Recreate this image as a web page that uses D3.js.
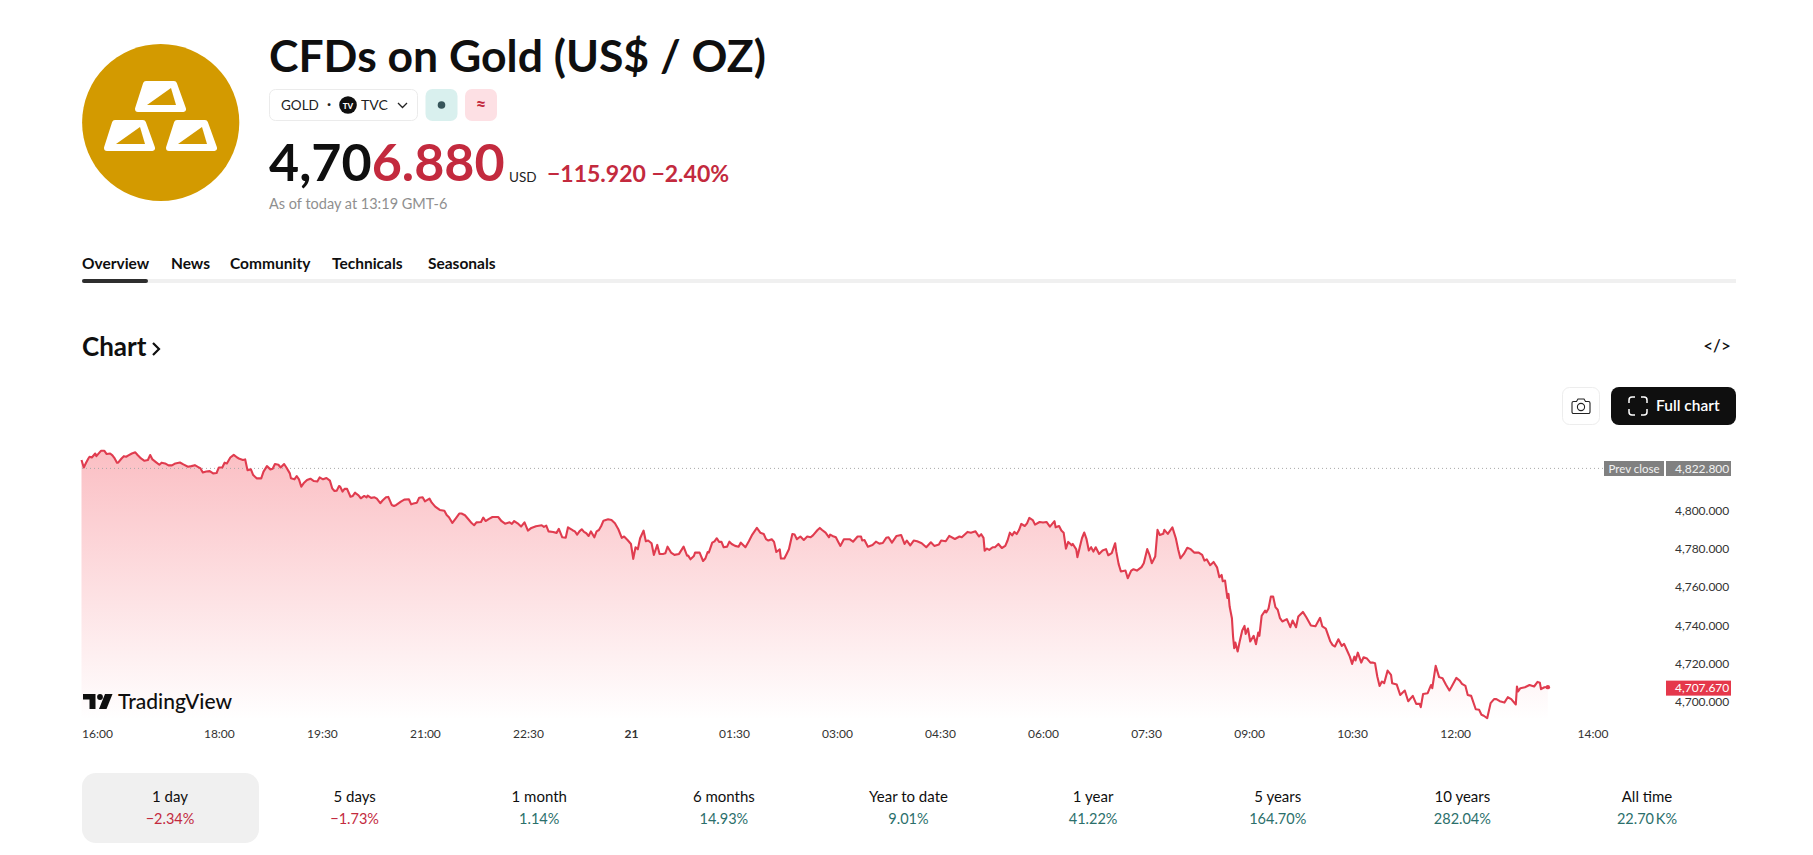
<!DOCTYPE html>
<html>
<head>
<meta charset="utf-8">
<title>CFDs on Gold</title>
<script src="https://cdn.jsdelivr.net/npm/d3@7"></script>
<style>
html, body { margin: 0; padding: 0; background: #fff; overflow: hidden; }
svg { display: block; font-family: Lato, "Noto Sans", sans-serif; }
</style>
</head>
<body>
<div id="chart"></div>
<script>
// minutes since 16:00 the day before
var minutes = [0,2,4,6,7,9,12,13,16,17,20,22,25,27,29,31,32,35,37,39,41,44,47,49,52,55,58,60,62,65,68,70,73,76,79,82,86,89,93,96,99,102,104,106,109,112,115,118,120,123,125,127,130,133,136,138,141,143,145,148,150,153,157,159,162,165,167,169,172,174,177,179,182,183,186,188,190,192,194,197,200,203,206,208,211,214,217,
219,221,223,225,226,228,230,232,235,237,239,242,244,247,249,250,253,256,258,261,263,266,268,271,273,275,279,282,286,288,290,293,295,298,300,304,306,309,313,317,319,321,324,327,330,332,335,338,341,343,345,349,351,353,356,359,364,367,370,374,376,378,381,384,387,390,393,397,402,404,406,408,412,415,417,420,423,425,429,431,433,435,
437,439,441,443,445,448,450,452,454,456,460,463,466,469,472,474,477,480,482,484,486,488,491,493,495,498,500,503,505,508,510,512,515,518,522,526,529,530,532,535,536,540,543,545,547,548,551,553,555,557,559,561,564,566,568,571,574,576,580,583,586,590,593,596,598,600,603,605,607,610,611,614,616,618,621,623,625,628,631,634,637,639,643,645,647,650,653,
654,656,659,661,663,666,668,671,674,678,681,682,684,687,691,694,697,700,703,705,708,712,716,719,721,724,727,730,734,738,742,745,749,751,755,758,763,767,769,774,777,781,784,786,788,789,791,793,796,798,801,804,807,809,811,813,815,817,819,821,824,826,828,831,833,837,840,843,846,848,850,851,854,856,858,860,862,865,866,869,870,872,
874,876,878,880,882,884,886,889,892,895,897,900,903,904,906,908,912,914,917,919,922,926,928,931,933,935,938,940,942,945,946,949,953,956,958,960,963,966,969,972,976,979,981,983,986,989,992,994,996,997,999,1001,1002,1003,1005,1006,1007,1008,1010,1012,1014,1016,1017,1019,1021,1024,1026,1028,1029,1031,1034,1035,1037,1039,1041,1043,1045,1047,1049,1053,1056,1058,1061,1063,1067,1070,1074,1078,1082,1084,1087,1091,
1093,1095,1098,1101,1103,1106,1108,1110,1112,1113,1115,1118,1120,1123,1126,1128,1130,1132,1134,1136,1138,1141,1144,1145,1149,1152,1156,1159,1163,1166,1169,1170,1172,1176,1179,1180,1183,1186,1189,1192,1195,1197,1201,1204,1206,1209,1211,1214,1218,1221,1223,1225,1228,1231,1234,1236,1239,1243,1246,1249,1253,1254,1255,1257,1261,1265,1269,1272,1274,1275,1278,1281];

var prices = [4826.4,4822.5,4825,4827.2,4828.1,4827.7,4829.8,4828.4,4830.5,4831.2,4831.2,4829.5,4829.8,4828.8,4827.2,4825,4825,4827.2,4828.4,4828.1,4828.8,4829.8,4830.4,4829,4827.2,4826,4826.4,4829,4826.7,4825.3,4823.9,4825,4824.6,4823.6,4823.6,4824.6,4825.1,4824.1,4822.9,4823.2,4823.7,4822.7,4822,4819.9,4820.4,4820.6,4819.4,4819.6,4822.5,4822.5,4825,4824.6,4827.7,4829.1,4827.7,4827,4826.4,4826.7,4821.1,4821.5,4818.5,4816.8,4816.8,4820.3,4823.2,4821.5,4821.8,4824.3,4823.9,4822.5,4824.3,4822.5,4819.4,4816.8,4816.3,4818,4816.3,4812.4,4814.2,4815.9,4816.6,4815.4,4815.2,4817.3,4816.3,4817,4815.6,
4811.6,4810.2,4810.4,4812.8,4812.5,4809.9,4811.4,4811.3,4807.2,4807.6,4809.3,4807.9,4806.4,4807.6,4806.9,4807.8,4806.6,4806.9,4806.2,4803.8,4805.2,4806.9,4807.1,4802.9,4802.4,4802.9,4804.6,4805.7,4805.9,4803.2,4803.6,4804.1,4806.7,4806.9,4804.8,4806.2,4804.1,4802,4800.3,4799.9,4797.7,4796.5,4793.5,4795.9,4798.4,4798.4,4797.5,4795.4,4793.3,4792.3,4793.8,4794,4796.3,4794.5,4795.6,4796.6,4796.6,4794.4,4793.1,4793.8,4793,4794.5,4793.3,4791.6,4793.8,4789.5,4790.9,4791.8,4792.3,4791.4,4792.1,4789.1,4788.8,4788.3,4790.4,4786,4785.8,4791.2,4789.7,4789.1,4787.4,4789.1,
4790.2,4788.8,4788.1,4786.7,4789.1,4786,4789.1,4789.8,4791.9,4794.7,4795.4,4795,4793.3,4790.2,4785.7,4786.4,4784.6,4782.5,4774.7,4780.8,4779.7,4785.5,4789.5,4783.9,4784.3,4782.9,4776.8,4782,4777.3,4777.3,4777.6,4781.1,4778,4776.8,4777.3,4781.1,4776.4,4776.4,4774.5,4776.2,4778,4778,4773.6,4774.9,4778.3,4778,4783.2,4783.9,4785.5,4783.6,4783.7,4780.8,4781.1,4783.7,4782.5,4781.5,4781.1,4783.2,4780.8,4783.9,4787.4,4790.9,4788.4,4787.7,4785,4784.3,4785,4783.6,4778.3,4779.7,4774.9,4774.9,4777.3,4779.7,4787.7,4787.4,4785,4786.4,4784.6,4786.4,4786,4787,4789.8,4790.9,4789.8,4788.4,4786,
4787.4,4786.7,4786,4783.7,4781.5,4785,4785,4785,4783.7,4786.4,4786.4,4784.3,4784.6,4781.1,4782,4783.7,4782.7,4783,4785.7,4786,4783.2,4786.7,4787.2,4782.5,4784.3,4781.8,4784.3,4783.9,4782.9,4780.8,4783.4,4781.5,4782.2,4784.3,4783.9,4786.7,4785.1,4786.4,4786,4788.8,4788.4,4789.1,4786.4,4787.6,4785.7,4779,4780.1,4779.4,4780.8,4780.8,4782.5,4780.4,4781.5,4784.3,4788.4,4787,4788.8,4787.7,4789.8,4793,4791.9,4793.3,4796.1,4795,4792.6,4794,4793.7,4794,4791.6,4793,4794.4,4791.2,4791.9,4789.5,4788.4,4780.1,4783.6,4781.8,4782.5,4779.7,4775.6,4780.7,
4785.5,4788.5,4785,4779.1,4780.8,4778.5,4780.8,4777.3,4779.1,4779.8,4776.6,4777.7,4782.9,4778.5,4772.1,4768.1,4768.6,4764.6,4768.6,4769.3,4768.6,4770.4,4772.4,4779.8,4776.8,4772.4,4775.9,4789.9,4787.2,4787.8,4789.9,4787.8,4791.2,4785.5,4779.8,4775,4777.3,4780.5,4779.8,4778,4778,4776.8,4773.8,4774.5,4771.4,4773.1,4770.3,4765.1,4766.3,4763,4763.4,4754.3,4756.4,4749.8,4743.7,4734.1,4728,4731,4726.3,4732.1,4737.3,4739.7,4735.5,4738.3,4731.5,4734.5,4730.1,4736.2,4734.5,4745,4747.7,4746.7,4748.8,4755,4755,4749.5,4748.1,4743.7,4742,4743.2,4739,4742.5,4739,4744.6,4747,4744.2,4739.9,4739.5,4743.9,4739.4,4738.3,4731.5,
4729.6,4728.9,4732.7,4729.2,4730.3,4726.3,4723.6,4719.8,4723.6,4721.6,4725.7,4720.5,4723.3,4722.6,4720.5,4720.5,4720.2,4713.2,4708.3,4710.6,4709.7,4716.3,4714.1,4709.7,4709,4703.6,4705.9,4700.3,4703.1,4698.9,4698.9,4697.2,4704.1,4704.5,4708.8,4707.1,4718.8,4712.9,4712.3,4708.9,4705.9,4708,4712.5,4711.1,4709.4,4708.3,4703.6,4703.1,4696.1,4695.8,4693.2,4692.7,4691.4,4699.3,4701.4,4701.4,4700.3,4699.6,4702.4,4701.4,4698.6,4708,4705.4,4707.1,4707.6,4708.8,4708,4710.4,4710,4706.6,4707.6,4707.67];

var xTickMinutes = [0,120,210,300,390,480,570,660,750,840,930,1020,1110,1200,1320];
var xTickLabels = ['16:00','18:00','19:30','21:00','22:30','21','01:30','03:00','04:30','06:00','07:30','09:00','10:30','12:00','14:00'];
var yTicks = [4700,4720,4740,4760,4780,4800];
var prevClose = 4822.8;
var lastPrice = 4707.67;

var tabNames = ['Overview','News','Community','Technicals','Seasonals'];
var tabX = [82,171,230,332,428];

var rangeNames = ['1 day','5 days','1 month','6 months','Year to date','1 year','5 years','10 years','All time'];
var rangeValues = ['\u22122.34%','\u22121.73%','1.14%','14.93%','9.01%','41.22%','164.70%','282.04%','22.70\u2009K%'];
var rangeUp = [false,false,true,true,true,true,true,true,true];

var red = '#c32a3e', green = '#2b6f6b', ink = '#0f0f0f', lineRed = '#e03c4f';

var svg = d3.select('#chart').append('svg').attr('width', 1813).attr('height', 855);

function label(x, y, str, size, weight, fill, anchor) {
    return svg.append('text').attr('x', x).attr('y', y).text(str)
        .style('font-size', size + 'px').style('font-weight', weight)
        .attr('fill', fill).attr('text-anchor', anchor || 'start');
}

// header: gold logo
svg.append('circle').attr('cx', 160.7).attr('cy', 122.5).attr('r', 78.6).attr('fill', '#d39a00');
function bar(x, y) {
    svg.append('path')
        .attr('d', 'M' + (x + 11) + ',' + (y + 3) + 'L' + (x + 39) + ',' + (y + 3) + 'L' + (x + 48) + ',' + (y + 28) + 'L' + (x + 3) + ',' + (y + 28) + 'Z')
        .attr('fill', '#fff').attr('stroke', '#fff').attr('stroke-width', 6).attr('stroke-linejoin', 'round');
    svg.append('path')
        .attr('d', 'M' + (x + 12) + ',' + (y + 24) + 'L' + (x + 36) + ',' + (y + 7) + 'L' + (x + 41) + ',' + (y + 24) + 'Z')
        .attr('fill', '#d39a00');
}
bar(135, 81); bar(104, 120); bar(166, 120);

label(269, 72, 'CFDs on Gold (US$ / OZ)', 44.5, 700, ink);

// symbol chip and badges
svg.append('rect').attr('x', 269.5).attr('y', 89.5).attr('width', 148).attr('height', 31).attr('rx', 6)
    .attr('fill', '#fff').attr('stroke', '#ebebeb');
label(281, 110, 'GOLD', 13.5, 400, '#222');
label(327, 109, '\u00b7', 15, 700, '#222');
svg.append('circle').attr('cx', 348).attr('cy', 105).attr('r', 8.8).attr('fill', ink);
label(348, 108.5, 'TV', 8, 900, '#fff', 'middle');
label(361, 110, 'TVC', 14, 400, '#222');
svg.append('path').attr('d', 'M398,103l4.5,4.5l4.5,-4.5').attr('fill', 'none').attr('stroke', '#222').attr('stroke-width', 1.3);
svg.append('rect').attr('x', 425.5).attr('y', 89).attr('width', 32).attr('height', 32).attr('rx', 7).attr('fill', '#d9f0ee');
svg.append('circle').attr('cx', 441.5).attr('cy', 105).attr('r', 3.8).attr('fill', '#37555a');
svg.append('rect').attr('x', 465).attr('y', 89).attr('width', 32).attr('height', 32).attr('rx', 7).attr('fill', '#fde0e4');
label(481, 111, '\u2248', 18, 700, red, 'middle');

// price
var priceText = label(269, 181, '', 52, 700, ink);
priceText.append('tspan').text('4,70');
priceText.append('tspan').attr('fill', red).text('6.880');
label(509, 182, 'USD', 13.5, 400, '#222');
label(547, 182, '\u2212115.920 \u22122.40%', 23, 700, red);
label(269, 209, 'As of today at 13:19 GMT-6', 14.5, 400, '#8f8f8f');

// tabs
svg.append('rect').attr('x', 82).attr('y', 279).attr('width', 1654).attr('height', 4).attr('fill', '#f0f0f0');
svg.append('rect').attr('x', 82).attr('y', 279).attr('width', 66).attr('height', 4).attr('rx', 2).attr('fill', '#2e2e2e');
svg.selectAll('text.tab').data(tabNames).enter().append('text').attr('class', 'tab')
    .attr('x', function(d, i) { return tabX[i]; }).attr('y', 269)
    .style('font-size', '15.5px').style('font-weight', 700).attr('fill', ink)
    .text(function(d) { return d; });

// chart heading and buttons
label(82, 356, 'Chart', 26, 700, ink);
svg.append('path').attr('d', 'M153,343l6,6l-6,6').attr('fill', 'none').attr('stroke', ink).attr('stroke-width', 2.2);
label(1717, 351.5, '</>', 17, 600, ink, 'middle');

svg.append('rect').attr('x', 1562.5).attr('y', 387.5).attr('width', 37).attr('height', 37).attr('rx', 7)
    .attr('fill', '#fff').attr('stroke', '#ededed');
svg.append('path').attr('d', 'M1573.5,401.5h3l1.5,-2.5h6l1.5,2.5h3a1.5,1.5 0 0 1 1.5,1.5v9a1.5,1.5 0 0 1 -1.5,1.5h-15a1.5,1.5 0 0 1 -1.5,-1.5v-9a1.5,1.5 0 0 1 1.5,-1.5z')
    .attr('fill', 'none').attr('stroke', '#222').attr('stroke-width', 1.1);
svg.append('circle').attr('cx', 1581).attr('cy', 407).attr('r', 3.6).attr('fill', 'none').attr('stroke', '#222').attr('stroke-width', 1.1);
svg.append('rect').attr('x', 1611).attr('y', 387).attr('width', 125).attr('height', 38).attr('rx', 8).attr('fill', ink);
svg.append('path').attr('d', 'M1629,403v-3a3,3 0 0 1 3,-3h3M1641,397h3a3,3 0 0 1 3,3v3M1647,409v3a3,3 0 0 1 -3,3h-3M1635,415h-3a3,3 0 0 1 -3,-3v-3')
    .attr('fill', 'none').attr('stroke', '#fff').attr('stroke-width', 1.5);
label(1656, 411, 'Full chart', 15.5, 600, '#fff');

// price chart
var x = d3.scaleLinear().domain([0, 1320]).range([81.5, 1592.5]);
var y = d3.scaleLinear().domain([4700, 4800]).range([701.8, 510.5]);
var points = minutes.map(function(m, i) { return {m: m, p: prices[i]}; });

var grad = svg.append('defs').append('linearGradient').attr('id', 'fade')
    .attr('gradientUnits', 'userSpaceOnUse').attr('x1', 0).attr('x2', 0).attr('y1', 450).attr('y2', 720);
grad.append('stop').attr('offset', 0).attr('stop-color', '#f23645').attr('stop-opacity', 0.32);
grad.append('stop').attr('offset', 1).attr('stop-color', '#f23645').attr('stop-opacity', 0);

var area = d3.area().x(function(d) { return x(d.m); }).y0(720).y1(function(d) { return y(d.p); });
var line = d3.line().x(function(d) { return x(d.m); }).y(function(d) { return y(d.p); });

svg.append('path').datum(points).attr('d', area).attr('fill', 'url(#fade)');

svg.append('line').attr('x1', 82).attr('x2', 1604)
    .attr('y1', y(prevClose) + 1.5).attr('y2', y(prevClose) + 1.5)
    .attr('stroke', '#a8a8a8').attr('stroke-width', 1).attr('stroke-dasharray', '1 3');

svg.append('path').datum(points).attr('d', line)
    .attr('fill', 'none').attr('stroke', lineRed).attr('stroke-width', 2.1).attr('stroke-linejoin', 'round');
svg.append('circle').attr('cx', x(1281)).attr('cy', y(lastPrice)).attr('r', 2.2).attr('fill', lineRed);

var xAxis = d3.axisBottom(x).tickValues(xTickMinutes).tickSize(0).tickPadding(0)
    .tickFormat(function(d, i) { return xTickLabels[i]; });
var xg = svg.append('g').attr('transform', 'translate(0,738)').call(xAxis);
xg.select('.domain').remove();
xg.selectAll('text').attr('y', 0).attr('dy', 0).attr('fill', '#333').style('font-size', '12px').style('font-family', 'Lato');
xg.selectAll('text').filter(function(d, i) { return i === 0; }).attr('text-anchor', 'start');
xg.selectAll('text').filter(function(d, i) { return xTickLabels[i] === '21'; }).style('font-weight', 700);

var yAxis = d3.axisRight(y).tickValues(yTicks).tickSize(0).tickPadding(0).tickFormat(d3.format(',.3f'));
var yg = svg.append('g').attr('transform', 'translate(1675,0)').call(yAxis);
yg.select('.domain').remove();
yg.selectAll('text').attr('fill', '#333').style('font-size', '12px').style('font-family', 'Lato');

// price boxes on the scale
svg.append('rect').attr('x', 1604).attr('y', 461).attr('width', 60).attr('height', 15).attr('fill', '#808080');
svg.append('rect').attr('x', 1666).attr('y', 461).attr('width', 65).attr('height', 15).attr('fill', '#808080');
label(1634, 472.5, 'Prev close', 11.5, 400, '#f2f2f2', 'middle');
label(1675, 472.5, d3.format(',.3f')(prevClose), 12, 400, '#f2f2f2');
svg.append('rect').attr('x', 1666).attr('y', y(lastPrice) - 6.5).attr('width', 65).attr('height', 15).attr('fill', '#e5384b');
label(1675, y(lastPrice) + 5, d3.format(',.3f')(lastPrice), 12, 400, '#fff');

// TradingView mark
svg.append('path').attr('d', 'M83,694h12.5v15h-6v-9.5h-6.5z').attr('fill', ink);
svg.append('circle').attr('cx', 100).attr('cy', 697).attr('r', 2.9).attr('fill', ink);
svg.append('path').attr('d', 'M105,694h7.5l-6,15h-7.5z').attr('fill', ink);
label(118, 708.5, 'TradingView', 21, 500, ink);

// period table
svg.append('rect').attr('x', 82).attr('y', 773).attr('width', 177).attr('height', 70).attr('rx', 14).attr('fill', '#f0f0f0');
var colX = d3.scalePoint().domain(rangeNames).range([170, 1647]);
svg.selectAll('text.range').data(rangeNames).enter().append('text').attr('class', 'range')
    .attr('x', function(d) { return colX(d); }).attr('y', 802).attr('text-anchor', 'middle')
    .style('font-size', '15px').attr('fill', ink).text(function(d) { return d; });
svg.selectAll('text.rangeval').data(rangeNames).enter().append('text').attr('class', 'rangeval')
    .attr('x', function(d) { return colX(d); }).attr('y', 824).attr('text-anchor', 'middle')
    .style('font-size', '14.5px')
    .attr('fill', function(d, i) { return rangeUp[i] ? green : red; })
    .text(function(d, i) { return rangeValues[i]; });
</script>
</body>
</html>
